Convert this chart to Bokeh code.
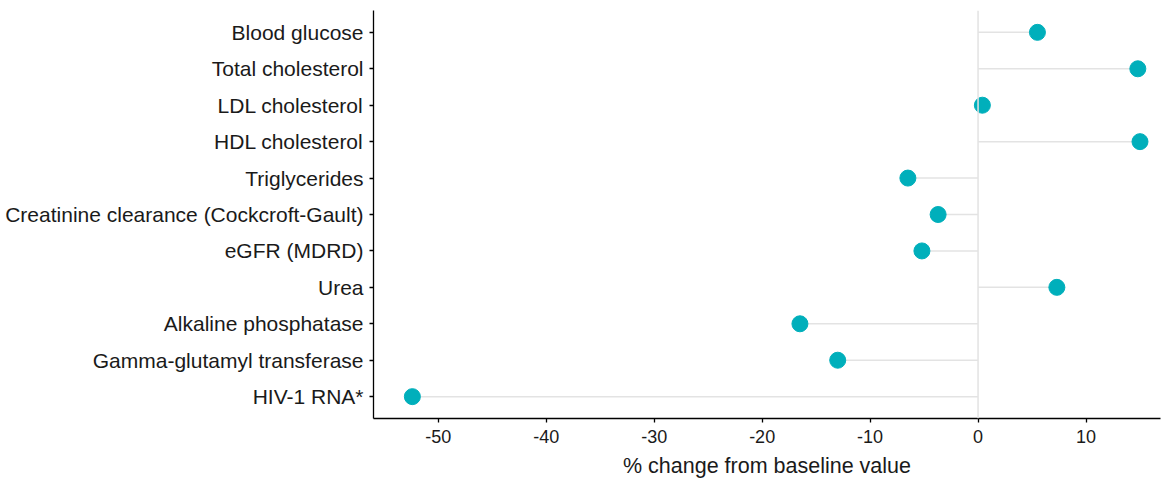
from bokeh.plotting import figure
from bokeh.models import FactorRange, Range1d, Span, FixedTicker
from bokeh.embed import file_html
from bokeh.resources import INLINE

categories = [
    "Blood glucose",
    "Total cholesterol",
    "LDL cholesterol",
    "HDL cholesterol",
    "Triglycerides",
    "Creatinine clearance (Cockcroft-Gault)",
    "eGFR (MDRD)",
    "Urea",
    "Alkaline phosphatase",
    "Gamma-glutamyl transferase",
    "HIV-1 RNA*",
]
pct_change = [5.5, 14.8, 0.4, 15.0, -6.5, -3.7, -5.2, 7.3, -16.5, -13.0, -52.4]
x_ticks = [-50, -40, -30, -20, -10, 0, 10]
x_tick_labels = ["-50", "-40", "-30", "-20", "-10", "0", "10"]

FONT = "Liberation Sans"
W, H = 1166, 481

p = figure(
    width=W, height=H,
    y_range=FactorRange(factors=list(reversed(categories)),
                        range_padding=0.1, range_padding_units="absolute"),
    x_range=Range1d(-56.0, 16.9),
    output_backend="svg", toolbar_location=None,
    min_border_left=373, min_border_right=W - 1160, min_border_top=10,
    min_border_bottom=H - 418,
)
p.outline_line_color = None
p.xgrid.grid_line_color = None
p.ygrid.grid_line_color = None
p.background_fill_color = "white"

p.add_layout(Span(location=0, dimension="height", line_color="#e3e3e3", line_width=1.5))
zeros = [0] * len(categories)
p.segment(x0=zeros, y0=categories, x1=pct_change, y1=categories,
          line_color="#e3e3e3", line_width=1.5)
p.scatter(x=pct_change, y=categories, size=16, fill_color="#00AFBB",
          line_color="#00AFBB")

p.xaxis.ticker = FixedTicker(ticks=x_ticks)
p.xaxis.major_label_overrides = {t: l for t, l in zip(x_ticks, x_tick_labels)}
p.xaxis.minor_tick_line_color = None
for ax in (p.xaxis, p.yaxis):
    ax.axis_line_color = "black"
    ax.axis_line_width = 1.3
    ax.major_tick_line_color = "black"
    ax.major_tick_line_width = 1.3
    ax.major_tick_out = 4
    ax.major_tick_in = 0
    ax.major_label_text_font = FONT
    ax.major_label_text_color = "#1a1a1a"
p.yaxis.major_label_text_font_size = "21px"
p.yaxis.major_label_standoff = 6
p.xaxis.major_label_text_font_size = "18px"
p.xaxis.major_label_standoff = 7
p.xaxis.axis_label = "% change from baseline value"
p.xaxis.axis_label_text_font = FONT
p.xaxis.axis_label_text_font_size = "21.5px"
p.xaxis.axis_label_text_font_style = "normal"
p.xaxis.axis_label_text_color = "#1a1a1a"
p.xaxis.axis_label_standoff = 8

open("out.html", "w").write(file_html(p, INLINE))
